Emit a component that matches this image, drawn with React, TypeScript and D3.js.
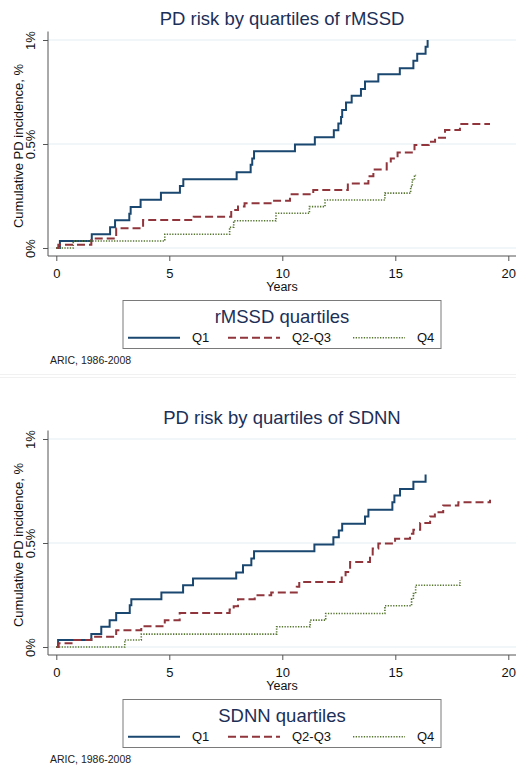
import React, { useRef, useEffect } from 'react';
import * as d3 from 'd3';

// axis ticks and legend labels
const xTicks = [0, 5, 10, 15, 20];
const yTicks = [0, 0.5, 1];
const groupLabels = ['Q1', 'Q2-Q3', 'Q4'];

// rMSSD panel: step points (years, cumulative incidence %)
const rmssdQ1Years = [0, 0.16, 1.57, 2.38, 2.6, 3.23, 3.29, 3.73, 4.63, 5.47, 5.62, 7.98, 8.6, 8.67, 8.75, 10.56, 11.44, 12.28, 12.48, 12.6, 12.65, 12.82, 13.07, 13.48, 13.66, 14.25, 15.2, 15.8, 15.97, 16.34, 16.43];
const rmssdQ1Pct = [0, 0.034, 0.066, 0.1, 0.133, 0.165, 0.197, 0.232, 0.266, 0.298, 0.33, 0.364, 0.4, 0.43, 0.465, 0.498, 0.532, 0.566, 0.598, 0.63, 0.663, 0.7, 0.732, 0.764, 0.8, 0.835, 0.864, 0.9, 0.934, 0.968, 1.0];
const rmssdQ23Years = [0, 0.09, 1.55, 2.65, 3.84, 6.08, 7.74, 8.04, 8.33, 9.53, 10.34, 11.37, 12.9, 13.81, 14.03, 14.62, 14.8, 15.1, 15.85, 16.48, 16.76, 17.2, 17.86, 19.19];
const rmssdQ23Pct = [0, 0.016, 0.046, 0.095, 0.135, 0.15, 0.183, 0.199, 0.215, 0.227, 0.258, 0.279, 0.31, 0.345, 0.378, 0.407, 0.43, 0.459, 0.495, 0.511, 0.53, 0.567, 0.596, 0.596];
const rmssdQ4Years = [0, 0.75, 4.8, 7.67, 7.85, 9.72, 11.2, 11.89, 14.54, 15.68, 15.75, 15.85, 15.92];
const rmssdQ4Pct = [0, 0.034, 0.066, 0.1, 0.131, 0.167, 0.199, 0.231, 0.264, 0.295, 0.327, 0.35, 0.35];

// SDNN panel
const sdnnQ1Years = [0, 0.08, 1.55, 1.99, 2.36, 2.65, 3.25, 3.32, 4.65, 5.61, 6.05, 7.96, 8.26, 8.63, 8.75, 11.42, 12.26, 12.5, 12.65, 13.66, 13.81, 14.87, 14.96, 15.21, 15.8, 16.34];
const sdnnQ1Pct = [0, 0.034, 0.062, 0.097, 0.129, 0.164, 0.201, 0.23, 0.262, 0.297, 0.329, 0.358, 0.393, 0.425, 0.46, 0.493, 0.528, 0.56, 0.593, 0.628, 0.66, 0.696, 0.728, 0.76, 0.795, 0.829];
const sdnnQ23Years = [0, 0.1, 0.8, 1.55, 2.65, 3.76, 4.8, 5.46, 7.67, 7.85, 8.04, 8.78, 9.51, 10.64, 10.75, 12.63, 12.8, 13.0, 13.88, 14.0, 14.25, 14.99, 15.65, 15.8, 16.1, 16.54, 16.75, 17.12, 17.79, 19.19];
const sdnnQ23Pct = [0, 0.018, 0.034, 0.049, 0.081, 0.1, 0.129, 0.164, 0.18, 0.196, 0.23, 0.249, 0.262, 0.29, 0.313, 0.34, 0.361, 0.409, 0.44, 0.473, 0.497, 0.52, 0.545, 0.564, 0.596, 0.628, 0.648, 0.68, 0.696, 0.708];
const sdnnQ4Years = [0, 3.03, 3.76, 9.75, 11.23, 11.92, 14.54, 15.72, 15.8, 15.9, 17.86];
const sdnnQ4Pct = [0, 0.034, 0.062, 0.097, 0.129, 0.161, 0.198, 0.23, 0.257, 0.297, 0.321];

const FONT = '"Liberation Sans", Arial, sans-serif';
const TITLE_COLOR = '#1c2f57';
const AXIS_COLOR = '#555';
const lineStyles = [
  { color: '#1a476f', dash: null, width: 2 },
  { color: '#90353b', dash: '8,4', width: 2 },
  { color: '#55752f', dash: '1.3,1.4', width: 1.6 },
];

const zip = (xs: number[], ys: number[]) => xs.map((x, i) => [x, ys[i]] as [number, number]);

function drawPanel(g: any, title: string, legendTitle: string, series: [number, number][][]) {
  const x = d3.scaleLinear().domain([0, 20]).range([56.3, 508.3]);
  const y = d3.scaleLinear().domain([0, 1]).range([248, 40]);

  // title
  g.append('text')
    .attr('x', 282).attr('y', 25)
    .attr('text-anchor', 'middle')
    .attr('font-size', 18.5)
    .attr('fill', TITLE_COLOR)
    .text(title);

  // grid
  g.selectAll('line.grid')
    .data(yTicks)
    .join('line')
    .attr('class', 'grid')
    .attr('x1', 48).attr('x2', 516)
    .attr('y1', (d: number) => y(d)).attr('y2', (d: number) => y(d))
    .attr('stroke', '#e3edf1')
    .attr('stroke-width', 1);

  // y axis
  const yAxis = g.append('g')
    .attr('transform', 'translate(48,0)')
    .call(d3.axisLeft(y).tickValues(yTicks).tickSize(5).tickFormat((d: any) => `${d}%`));
  yAxis.select('.domain').remove();
  yAxis.selectAll('line').attr('stroke', AXIS_COLOR);
  yAxis.selectAll('text')
    .attr('transform', 'rotate(-90)')
    .attr('x', 0).attr('y', -13).attr('dy', 0)
    .attr('text-anchor', 'middle')
    .attr('font-size', 13)
    .attr('font-family', FONT)
    .attr('fill', '#111');
  g.append('line')
    .attr('x1', 48).attr('x2', 48).attr('y1', 31.5).attr('y2', 256)
    .attr('stroke', AXIS_COLOR).attr('stroke-width', 1);

  // x axis
  const xAxis = g.append('g')
    .attr('transform', 'translate(0,256)')
    .call(d3.axisBottom(x).tickValues(xTicks).tickSize(5).tickFormat(d3.format('d')));
  xAxis.select('.domain').remove();
  xAxis.selectAll('line').attr('stroke', AXIS_COLOR);
  xAxis.selectAll('text')
    .attr('y', 21.5).attr('dy', 0)
    .attr('font-size', 13)
    .attr('font-family', FONT)
    .attr('fill', '#111');
  g.append('line')
    .attr('x1', 48).attr('x2', 516).attr('y1', 256).attr('y2', 256)
    .attr('stroke', AXIS_COLOR).attr('stroke-width', 1);

  // axis titles
  g.append('text')
    .attr('x', 282).attr('y', 291)
    .attr('text-anchor', 'middle')
    .attr('font-size', 12.5)
    .attr('fill', '#111')
    .text('Years');
  g.append('text')
    .attr('transform', 'translate(23,146) rotate(-90)')
    .attr('text-anchor', 'middle')
    .attr('font-size', 13)
    .attr('fill', '#111')
    .text('Cumulative PD incidence, %');

  // step curves
  const line = d3.line<[number, number]>()
    .x(d => x(d[0]))
    .y(d => y(d[1]))
    .curve(d3.curveStepAfter);
  series.forEach((pts, i) => {
    const s = lineStyles[i];
    g.append('path')
      .attr('d', line(pts))
      .attr('fill', 'none')
      .attr('stroke', s.color)
      .attr('stroke-width', s.width)
      .attr('stroke-dasharray', s.dash);
  });

  // legend
  const lg = g.append('g');
  lg.append('rect')
    .attr('x', 123).attr('y', 300.5).attr('width', 318).attr('height', 48)
    .attr('fill', '#fff').attr('stroke', '#7a7a7a').attr('stroke-width', 1);
  lg.append('text')
    .attr('x', 282).attr('y', 323)
    .attr('text-anchor', 'middle')
    .attr('font-size', 18.5)
    .attr('fill', TITLE_COLOR)
    .text(legendTitle);
  const itemX = [128, 228, 353];
  groupLabels.forEach((label, i) => {
    const s = lineStyles[i];
    lg.append('line')
      .attr('x1', itemX[i]).attr('x2', itemX[i] + 52)
      .attr('y1', 337.7).attr('y2', 337.7)
      .attr('stroke', s.color)
      .attr('stroke-width', s.width)
      .attr('stroke-dasharray', s.dash);
    lg.append('text')
      .attr('x', itemX[i] + 64).attr('y', 342)
      .attr('font-size', 13)
      .attr('fill', '#111')
      .text(label);
  });

  // note
  g.append('text')
    .attr('x', 50).attr('y', 364)
    .attr('font-size', 10.5)
    .attr('fill', '#222')
    .text('ARIC, 1986-2008');
}

const App = () => {
  const svgRef = useRef<SVGSVGElement>(null);

  useEffect(() => {
    if (!svgRef.current) return;
    const svg = d3.select(svgRef.current);
    svg.selectAll('*').remove();
    svg.attr('font-family', FONT);

    svg.append('rect').attr('width', 516).attr('height', 771).attr('fill', '#fff');
    svg.append('line').attr('x1', 0).attr('x2', 516).attr('y1', 374.5).attr('y2', 374.5)
      .attr('stroke', '#f1f1f1').attr('stroke-width', 1);
    svg.append('line').attr('x1', 0).attr('x2', 516).attr('y1', 377.5).attr('y2', 377.5)
      .attr('stroke', '#f1f1f1').attr('stroke-width', 1);

    const top = svg.append('g');
    drawPanel(top, 'PD risk by quartiles of rMSSD', 'rMSSD quartiles', [
      zip(rmssdQ1Years, rmssdQ1Pct),
      zip(rmssdQ23Years, rmssdQ23Pct),
      zip(rmssdQ4Years, rmssdQ4Pct),
    ]);

    const bottom = svg.append('g').attr('transform', 'translate(0,399)');
    drawPanel(bottom, 'PD risk by quartiles of SDNN', 'SDNN quartiles', [
      zip(sdnnQ1Years, sdnnQ1Pct),
      zip(sdnnQ23Years, sdnnQ23Pct),
      zip(sdnnQ4Years, sdnnQ4Pct),
    ]);
  }, []);

  return (
    <svg
      ref={svgRef}
      width={516}
      height={771}
      style={{ position: 'absolute', left: 0, top: 0, display: 'block' }}
    />
  );
};

export default App;
